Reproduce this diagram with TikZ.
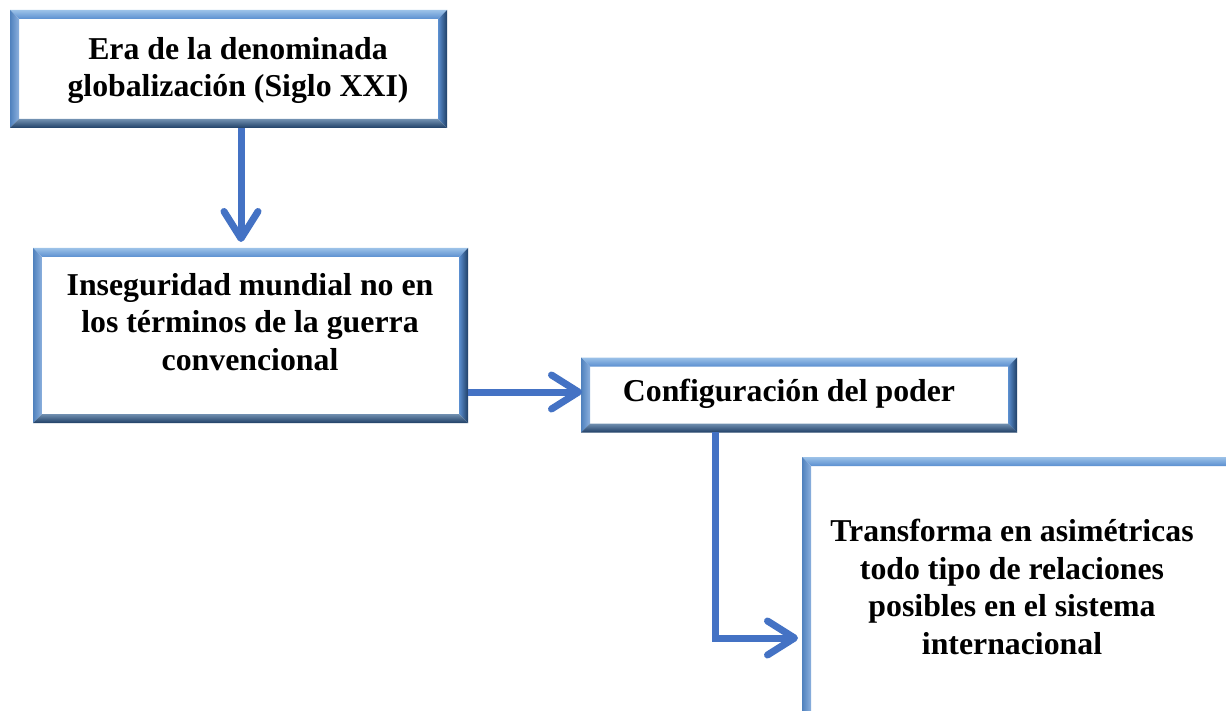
\documentclass[tikz,border=0pt]{standalone}
\usepackage{fontspec}
\setmainfont{Liberation Serif}
\usetikzlibrary{arrows.meta}
\definecolor{arrowblue}{HTML}{4472C4}
\definecolor{bvlight}{HTML}{9CC2E8}
\definecolor{bvmid}{HTML}{5B8FD0}
\definecolor{bvleft}{HTML}{4F81BD}
\definecolor{bvdark}{HTML}{1F3F66}
\definecolor{bvbot}{HTML}{34608F}
\newcommand\bevelframe[1]{%
  \shade[top color=bvlight,bottom color=bvmid] (#1.north west) -- (#1.north east) -- ([xshift=-9pt,yshift=-9pt]#1.north east) -- ([xshift=9pt,yshift=-9pt]#1.north west) -- cycle;
  \shade[left color=bvleft,right color=bvmid!70!white] (#1.north west) -- ([xshift=9pt,yshift=-9pt]#1.north west) -- ([xshift=9pt,yshift=9pt]#1.south west) -- (#1.south west) -- cycle;
  \shade[left color=bvmid,right color=bvdark] (#1.north east) -- ([xshift=-9pt,yshift=-9pt]#1.north east) -- ([xshift=-9pt,yshift=9pt]#1.south east) -- (#1.south east) -- cycle;
  \shade[top color=bvbot!70!white,bottom color=bvdark] (#1.south west) -- ([xshift=9pt,yshift=9pt]#1.south west) -- ([xshift=-9pt,yshift=9pt]#1.south east) -- (#1.south east) -- cycle;
}
\tikzset{
  boxnode/.style={rectangle, fill=white, inner sep=0pt, outer sep=0pt},
  txt/.style={align=center, font=\fontsize{31.8}{37.5}\selectfont\bfseries, inner sep=0pt},
  conn/.style={draw=arrowblue, line width=7pt, -{Straight Barb[round,length=27pt,width=34pt]}}
}
\begin{document}
\begin{tikzpicture}[x=1pt,y=-1pt]
\useasboundingbox (0,0) rectangle (1226,711);
\clip (0,0) rectangle (1226,711);
\fill[white] (0,0) rectangle (1226,711);
% boxes
\node[boxnode, minimum width=437pt, minimum height=118pt] (b1) at (228.5,69) {};
\node[boxnode, minimum width=435pt, minimum height=175pt] (b2) at (250.5,335.5) {};
\node[boxnode, minimum width=436pt, minimum height=75pt] (b3) at (799,395) {};
\node[boxnode, minimum width=436pt, minimum height=274pt] (b4) at (1020,594) {};
\bevelframe{b1}
\bevelframe{b2}
\bevelframe{b3}
\bevelframe{b4}
% texts
\node[txt] (t1) at (238,70.5) {Era de la denominada\\globalizaci\'on (Siglo XXI)};
\node[txt] (t2) at (250,322) {Inseguridad mundial no en\\los t\'erminos de la guerra\\convencional};
\node[txt] (t3) at (789,394) {Configuraci\'on del poder};
\node[txt] (t4) at (1012,587) {Transforma en asim\'etricas\\todo tipo de relaciones\\posibles en el sistema\\internacional};
% connectors
\coordinate (c1s) at (241,128);
\coordinate (c1e) at (241,242);
\coordinate (c2s) at (468,392);
\coordinate (c2e) at (582,392);
\coordinate (c3s) at (715,432);
\coordinate (c3m) at (715,638);
\coordinate (c3e) at (798,638);
\draw[conn] (c1s) -- (c1e);
\draw[conn] (c2s) -- (c2e);
\draw[conn] (c3s) -- (c3m) -- (c3e);
\end{tikzpicture}
\end{document}
